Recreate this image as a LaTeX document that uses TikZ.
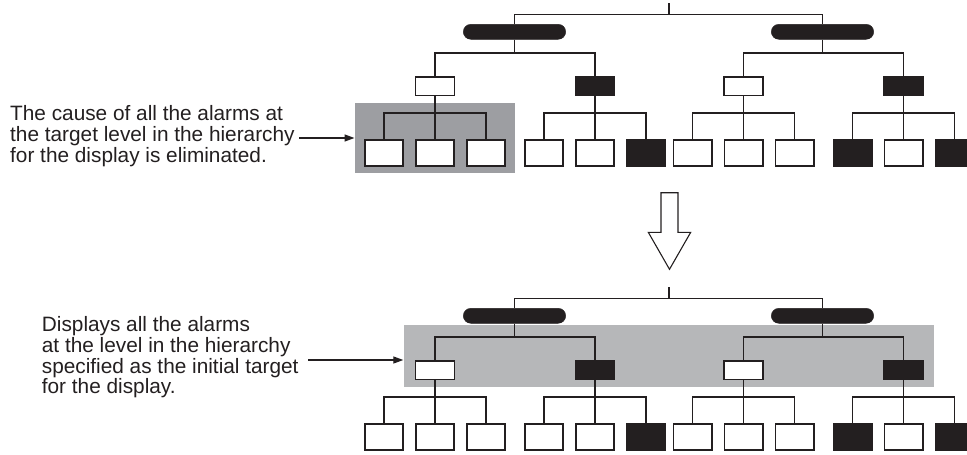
\documentclass[tikz,border=0pt]{standalone}
\usepackage{fontspec}
\setmainfont{Liberation Sans}
\usepackage{xcolor}
\usetikzlibrary{arrows.meta}

\definecolor{ink}{HTML}{231F20}
\definecolor{darkgrey}{HTML}{9D9EA2}
\definecolor{lightgrey}{HTML}{B6B7B9}

\tikzset{
  pill/.style={fill=ink, draw=ink, rounded corners=7.5pt, minimum width=102.4pt, minimum height=15pt, inner sep=0pt},
  midbox/.style={draw=ink, line width=1.7pt, minimum width=38.8pt, minimum height=18.8pt, inner sep=0pt},
  leaf/.style={draw=ink, line width=1.7pt, minimum width=38.3pt, minimum height=25.8pt, inner sep=0pt},
  link/.style={draw=ink, line width=1.4pt},
  shade/.style={inner sep=0pt, draw=none},
  note/.style={align=left, anchor=north west, inner sep=0pt, text=ink, font=\fontsize{20.8}{20.8}\selectfont},
  pointer/.style={draw=ink, line width=1.3pt, -{Triangle[length=10pt,width=7pt]}},
}

\begin{document}
\begin{tikzpicture}[x=1pt, y=-1pt]
  \useasboundingbox (0,0) rectangle (967,455);
  \clip (0,0) rectangle (967,455);

  \node[shade, fill=darkgrey, minimum width=160.6pt, minimum height=70pt] (ga) at (435,137.7) {};
  \node[shade, fill=lightgrey, minimum width=530.5pt, minimum height=62.3pt] (gb) at (668.75,356.15) {};

  \foreach \t/\dy in {a/0, b/284} {
    \begin{scope}[yshift=-\dy pt]
      \coordinate (\t r) at (669,3.3);
      \coordinate (\t j) at (669,14.7);
      \node[pill] (\t p1) at (514.5,31.8) {};
      \node[pill] (\t p2) at (822.5,31.8) {};
      \draw[link] (\t r) -- (\t j) -| (\t p1.north);
      \draw[link] (\t j) -| (\t p2.north);

      \foreach \i/\x/\c in {1/435/white, 2/595/ink, 3/743.5/white, 4/903.5/ink}
        \node[midbox, fill=\c] (\t m\i) at (\x,86.2) {};
      \foreach \p/\i in {1/1, 1/2, 2/3, 2/4}
        \draw[link] (\t p\p.south) -- ++(0,13.4) -| (\t m\i.north);

      \foreach \i/\g/\dx/\c in {1/1/-51/white, 2/1/0/white, 3/1/51/white,
                               4/2/-51/white, 5/2/0/white, 6/2/51/ink,
                               7/3/-51/white, 8/3/0/white, 9/3/51/white,
                               10/4/-51/ink, 11/4/0/white, 12/4/51/ink} {
        \node[leaf, fill=\c] (\t l\i) at ([shift={(\dx,66.8)}]\t m\g) {};
        \draw[link] (\t m\g.south) -- ++(0,16.4) -| (\t l\i.north);
      }
    \end{scope}
  }

  \draw[ink, line width=1.1pt] (661,192.7) -- (661,232.3) -- (648.3,232.3) -- (669.5,269.3)
    -- (690.7,232.3) -- (678,232.3) -- (678,192.7) -- cycle;

  \node[note] (n1) at (10,105.5) {The cause of all the alarms at\\the target level in the hierarchy\\for the display is eliminated.};
  \node[note] (n2) at (41.7,316.3) {Displays all the alarms\\at the level in the hierarchy\\specified as the initial target\\for the display.};

  \coordinate (s1) at (299,138);
  \draw[pointer] (s1) -- (s1 -| ga.west);
  \coordinate (s2) at (308,360);
  \draw[pointer] (s2) -- (s2 -| gb.west);
\end{tikzpicture}
\end{document}
